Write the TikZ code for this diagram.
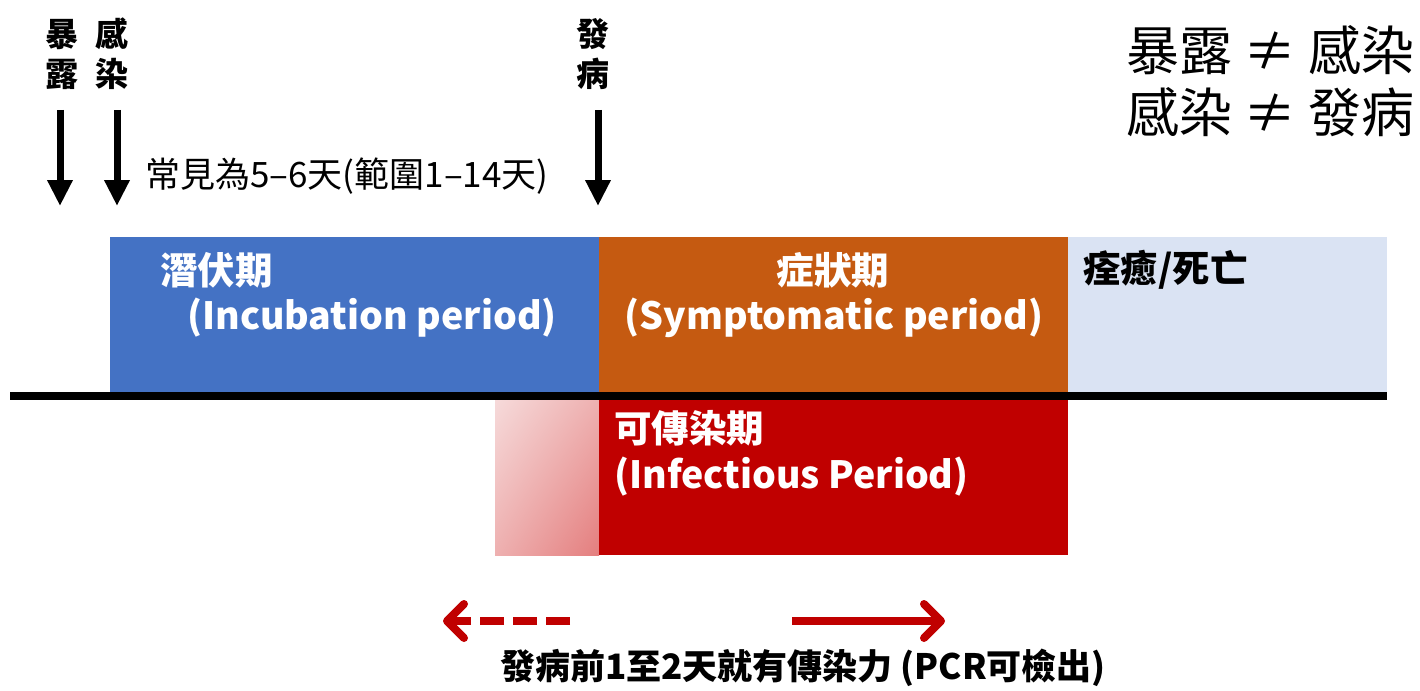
\documentclass[tikz,border=0pt]{standalone}
\usepackage{fontspec}
\setmainfont{Noto Sans CJK TC}
\usetikzlibrary{arrows.meta,shadings}

\definecolor{incubblue}{HTML}{4472C4}
\definecolor{symporange}{HTML}{C55A11}
\definecolor{recoverblue}{HTML}{DAE3F3}
\definecolor{infectred}{HTML}{C00000}
\definecolor{prelight}{HTML}{F6DADA}
\definecolor{premid}{HTML}{EEB0B0}
\definecolor{predark}{HTML}{E47E7E}

\begin{document}
\begin{tikzpicture}
[
    x=1pt, y=-1pt,
    phase/.style={anchor=north west, minimum height=155, inner sep=0, outer sep=0},
    boxtext/.style={text=white, font=\bfseries\fontsize{37.5}{44}\selectfont, inner sep=0},
    eventlbl/.style={font=\bfseries\fontsize{33}{40}\selectfont, align=center, inner sep=0},
    downarrow/.style={line width=7, -{Triangle[width=24, length=26]}},
    redarrow/.style={line width=8, color=infectred, -{Straight Barb[width=34, length=17, line cap=round, line join=round]}},
]
\useasboundingbox (0,0) rectangle (1420,690);

% phases above the line
\node [phase, fill=incubblue, minimum width=489] (incub) at (110,237) {};
\node [phase, fill=symporange, minimum width=469] (symp) at (599,237) {};
\node [phase, fill=recoverblue, minimum width=319] (recov) at (1068,237) {};

% infectious period below the line
\node [phase, minimum width=104, upper left=prelight, lower right=predark,
       upper right=premid, lower left=premid] (pre) at (495,400) {};
\node [phase, fill=infectred, minimum width=469] (infect) at (599,400) {};

% time line
\coordinate (line-l) at (10,396);
\coordinate (line-r) at (1387,396);
\draw [line width=8] (line-l) -- (line-r);

% box texts
\node [boxtext, anchor=west] (incub-zh) at (160,270) {潛伏期};
\node [boxtext] (incub-en) at (372,318) {(Incubation period)};
\node [boxtext] (symp-zh) at (833,270) {症狀期};
\node [boxtext] (symp-en) at (834,318) {(Symptomatic period)};
\node [boxtext, text=black, anchor=west] (recov-zh) at (1083,270) {痊癒/死亡};
\node [boxtext, anchor=west] (infect-zh) at (614,428) {可傳染期};
\node [boxtext, anchor=west] (infect-en) at (614,477) {(Infectious Period)};

% events
\node [eventlbl] (expose) at (62,54) {暴\\露};
\node [eventlbl] (catch) at (112,54) {感\\染};
\node [eventlbl] (onset) at (593,54) {發\\病};
\coordinate (expose-top) at (60,110);
\coordinate (expose-bot) at (60,206);
\coordinate (catch-top) at (117,110);
\coordinate (catch-bot) at (117,206);
\coordinate (onset-top) at (598,110);
\coordinate (onset-bot) at (598,206);
\draw [downarrow] (expose-top) -- (expose-bot);
\draw [downarrow] (catch-top) -- (catch-bot);
\draw [downarrow] (onset-top) -- (onset-bot);

\node [anchor=west, inner sep=0, font=\fontsize{35}{40}\selectfont] (span) at (145,176) {常見為5–6天(範圍1–14天)};

% top right remarks
\node [anchor=east, inner sep=0, font=\fontsize{53}{60}\selectfont] (note1) at (1415,50) {暴露 ≠ 感染};
\node [anchor=east, inner sep=0, font=\fontsize{53}{60}\selectfont] (note2) at (1415,112) {感染 ≠ 發病};

% bottom arrows
\coordinate (back-start) at (570,621);
\coordinate (back-end) at (443,621);
\coordinate (fwd-start) at (792,621);
\coordinate (fwd-end) at (945,621);
\draw [redarrow, dash pattern=on 24 off 9] (back-start) -- (back-end);
\draw [redarrow] (fwd-start) -- (fwd-end);

\node [eventlbl, font=\bfseries\fontsize{35}{40}\selectfont] (bottom) at (803,668) {發病前1至2天就有傳染力 (PCR可檢出)};
\end{tikzpicture}
\end{document}
